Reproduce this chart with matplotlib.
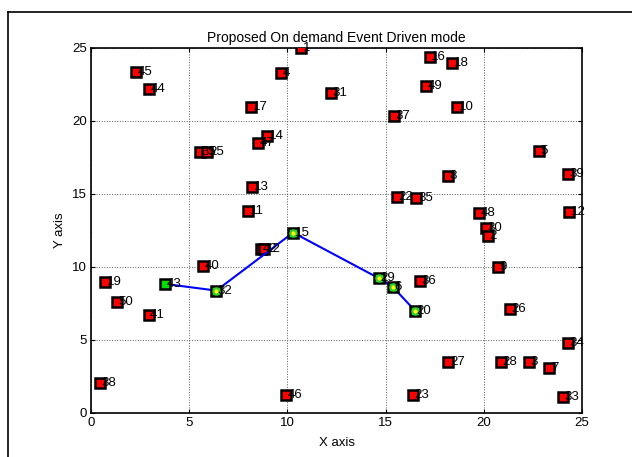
import matplotlib
matplotlib.use('Agg')
import matplotlib.pyplot as plt
from matplotlib.lines import Line2D

plt.rcParams['font.family'] = ['Liberation Sans', 'DejaVu Sans']

# sensor nodes (x, y, label)
node_x = [2.29, 2.95, 10.71, 9.66, 12.2, 8.15, 8.96, 8.5, 5.56, 5.93,
          8.22, 7.99, 8.66, 8.83, 5.7, 0.72, 1.32, 2.93, 0.47, 9.95,
          17.25, 18.39, 17.05, 18.64, 15.42, 22.82, 24.3, 18.16, 15.59, 16.57,
          19.75, 24.35, 20.09, 20.22, 20.73, 16.74, 21.33, 24.27, 18.19, 20.86,
          22.3, 23.33, 16.4, 24.02]
node_y = [23.36, 22.2, 25.0, 23.27, 21.9, 20.98, 18.99, 18.47, 17.88, 17.88,
          15.5, 13.86, 11.26, 11.2, 10.09, 8.99, 7.62, 6.71, 2.08, 1.23,
          24.36, 23.95, 22.4, 20.94, 20.34, 17.95, 16.35, 16.25, 14.82, 14.7,
          13.68, 13.75, 12.65, 12.12, 10.02, 9.06, 7.1, 4.77, 3.47, 3.47,
          3.47, 3.1, 1.23, 1.08]
node_lbl = ['45', '44', '1', '4', '31', '17', '14', '47', '35', '25',
            '13', '11', '42', '12', '40', '19', '50', '41', '38', '46',
            '16', '18', '49', '10', '37', '5', '39', '8', '22', '35',
            '48', '12', '30', '2', '9', '36', '26', '34', '27', '28',
            '3', '7', '23', '33']

# route found by the event driven protocol
path_x = [3.75, 6.38, 10.29, 14.65, 15.38, 16.49]
path_y = [8.84, 8.38, 12.35, 9.23, 8.61, 7.01]
path_lbl = ['43', '32', '15', '29', '6', '20']

fs = 9.5

fig = plt.figure(figsize=(6.32, 4.57), dpi=100)
ax = fig.add_axes([0.144, 0.0963, 0.777, 0.799])

ax.plot(node_x, node_y, 's', ms=7, mfc='red', mec='black', mew=1.8,
        ls='none', zorder=3)
for x, y, s in zip(node_x, node_y, node_lbl):
    ax.text(x + 0.08, y, s, fontsize=fs, va='center', ha='left', zorder=5)

ax.plot(path_x, path_y, '-', color='blue', lw=1.5, zorder=3)
ax.plot(path_x, path_y, 's', ms=7, mfc='#00dd00', mec='black', mew=1.8,
        ls='none', zorder=4)
ax.plot(path_x[1:], path_y[1:], 'o', ms=4.5, mfc='yellow', mec='#33cc33',
        mew=1.5, ls='none', zorder=4)
for x, y, s in zip(path_x, path_y, path_lbl):
    ax.text(x + 0.08, y, s, fontsize=fs, va='center', ha='left', zorder=5)

ax.set_xlim(0, 25)
ax.set_ylim(0, 25)
ax.set_xticks([0, 5, 10, 15, 20, 25])
ax.set_yticks([0, 5, 10, 15, 20, 25])
ax.tick_params(direction='in', top=True, right=True, length=3, labelsize=fs,
               pad=3)
ax.grid(True, ls=':', color='0.35', lw=0.7)
for sp in ax.spines.values():
    sp.set_linewidth(1.2)

ax.set_title('Proposed On demand Event Driven mode', fontsize=10, pad=4)
ax.set_xlabel('X axis', fontsize=fs, labelpad=6)
ax.set_ylabel('Y axis', fontsize=fs, labelpad=4)

# outer frame of the figure (cut off on the right and bottom)
fig.add_artist(Line2D([0.0127, 0.0127], [0.974, 0.0], color='black', lw=1.2))
fig.add_artist(Line2D([0.0127, 1.0], [0.974, 0.974], color='black', lw=1.2))

fig.savefig('out.png', dpi=100)
